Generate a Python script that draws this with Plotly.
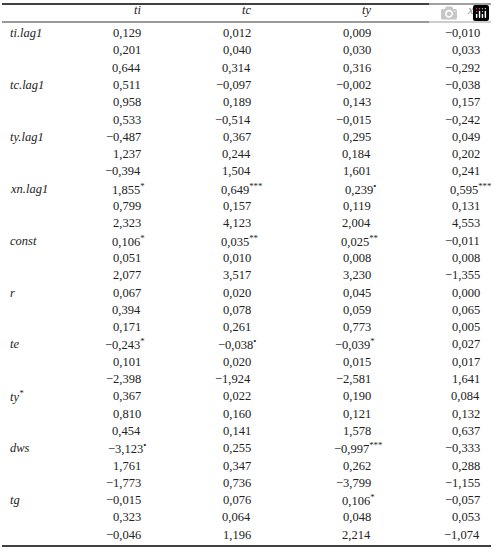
import plotly.graph_objects as go

columns = ["ti", "tc", "ty", "xn"]
row_names = ["ti.lag1", "tc.lag1", "ty.lag1", "xn.lag1", "const", "r", "te", "ty*", "dws", "tg"]

# estimates, standard errors, t values and significance marks per equation
coef = {
    "ti": [0.129, 0.511, -0.487, 1.855, 0.106, 0.067, -0.243, 0.367, -3.123, -0.015],
    "tc": [0.012, -0.097, 0.367, 0.649, 0.035, 0.020, -0.038, 0.022, 0.255, 0.076],
    "ty": [0.009, -0.002, 0.295, 0.239, 0.025, 0.045, -0.039, 0.190, -0.997, 0.106],
    "xn": [-0.010, -0.038, 0.049, 0.595, -0.011, 0.000, 0.027, 0.084, -0.333, -0.057],
}
se = {
    "ti": [0.201, 0.958, 1.237, 0.799, 0.051, 0.394, 0.101, 0.810, 1.761, 0.323],
    "tc": [0.040, 0.189, 0.244, 0.157, 0.010, 0.078, 0.020, 0.160, 0.347, 0.064],
    "ty": [0.030, 0.143, 0.184, 0.119, 0.008, 0.059, 0.015, 0.121, 0.262, 0.048],
    "xn": [0.033, 0.157, 0.202, 0.131, 0.008, 0.065, 0.017, 0.132, 0.288, 0.053],
}
tval = {
    "ti": [0.644, 0.533, -0.394, 2.323, 2.077, 0.171, -2.398, 0.454, -1.773, -0.046],
    "tc": [0.314, -0.514, 1.504, 4.123, 3.517, 0.261, -1.924, 0.141, 0.736, 1.196],
    "ty": [0.316, -0.015, 1.601, 2.004, 3.230, 0.773, -2.581, 1.578, -3.799, 2.214],
    "xn": [-0.292, -0.242, 0.241, 4.553, -1.355, 0.005, 1.641, 0.637, -1.155, -1.074],
}
sig = {
    "ti": ["", "", "", "*", "*", "", "*", "", "•", ""],
    "tc": ["", "", "", "***", "**", "", "•", "", "", ""],
    "ty": ["", "", "", "•", "**", "", "*", "", "***", "*"],
    "xn": ["", "", "", "***", "", "", "", "", "", ""],
}

W, H = 495, 553
col_right = [143, 253, 373, 482]
row_y0, row_step = 33, 17.3
font = dict(family="Liberation Serif, Times New Roman, serif", size=12.5, color="#222")


def fmt(v):
    s = f"{abs(v):.3f}".replace(".", ",")
    return ("−" + s) if v < 0 else s


fig = go.Figure()
ann = []
for c, xr in zip(columns, col_right):
    ann.append(dict(x=xr, y=10, text=f"<i>{c}</i>", xanchor="right"))
for i, name in enumerate(row_names):
    y = row_y0 + 3 * i * row_step
    label = name.replace("*", "<sup>*</sup>")
    ann.append(dict(x=8, y=y, text=f"<i>{label}</i>", xanchor="left"))
    for c, xr in zip(columns, col_right):
        mark = sig[c][i]
        shift = 0 if not mark else (4.5 if mark == "•" else 3.6 * len(mark))
        mark_txt = f"<sup>{mark}</sup>" if mark else ""
        ann.append(dict(x=xr + shift, y=y, text=fmt(coef[c][i]) + mark_txt, xanchor="right"))
        ann.append(dict(x=xr, y=y + row_step, text=fmt(se[c][i]), xanchor="right"))
        ann.append(dict(x=xr, y=y + 2 * row_step, text=fmt(tval[c][i]), xanchor="right"))
for a in ann:
    a.update(xref="x", yref="y", showarrow=False, yanchor="middle", font=font)

for y, w in [(4, 1.3), (22, 0.8), (546, 1.3)]:
    fig.add_shape(type="line", xref="paper", yref="paper", x0=2 / W, x1=491 / W,
                  y0=1 - y / H, y1=1 - y / H, line=dict(color="black", width=w))

fig.update_layout(
    width=W, height=H, margin=dict(l=0, r=0, t=0, b=0),
    paper_bgcolor="white", plot_bgcolor="white",
    font=font,
    annotations=ann,
    xaxis=dict(range=[0, W], showgrid=False, zeroline=False, showticklabels=False, fixedrange=True),
    yaxis=dict(range=[H, 0], showgrid=False, zeroline=False, showticklabels=False, fixedrange=True),
)
fig.write_html("out.html", post_script="document.body.style.margin='0';")
